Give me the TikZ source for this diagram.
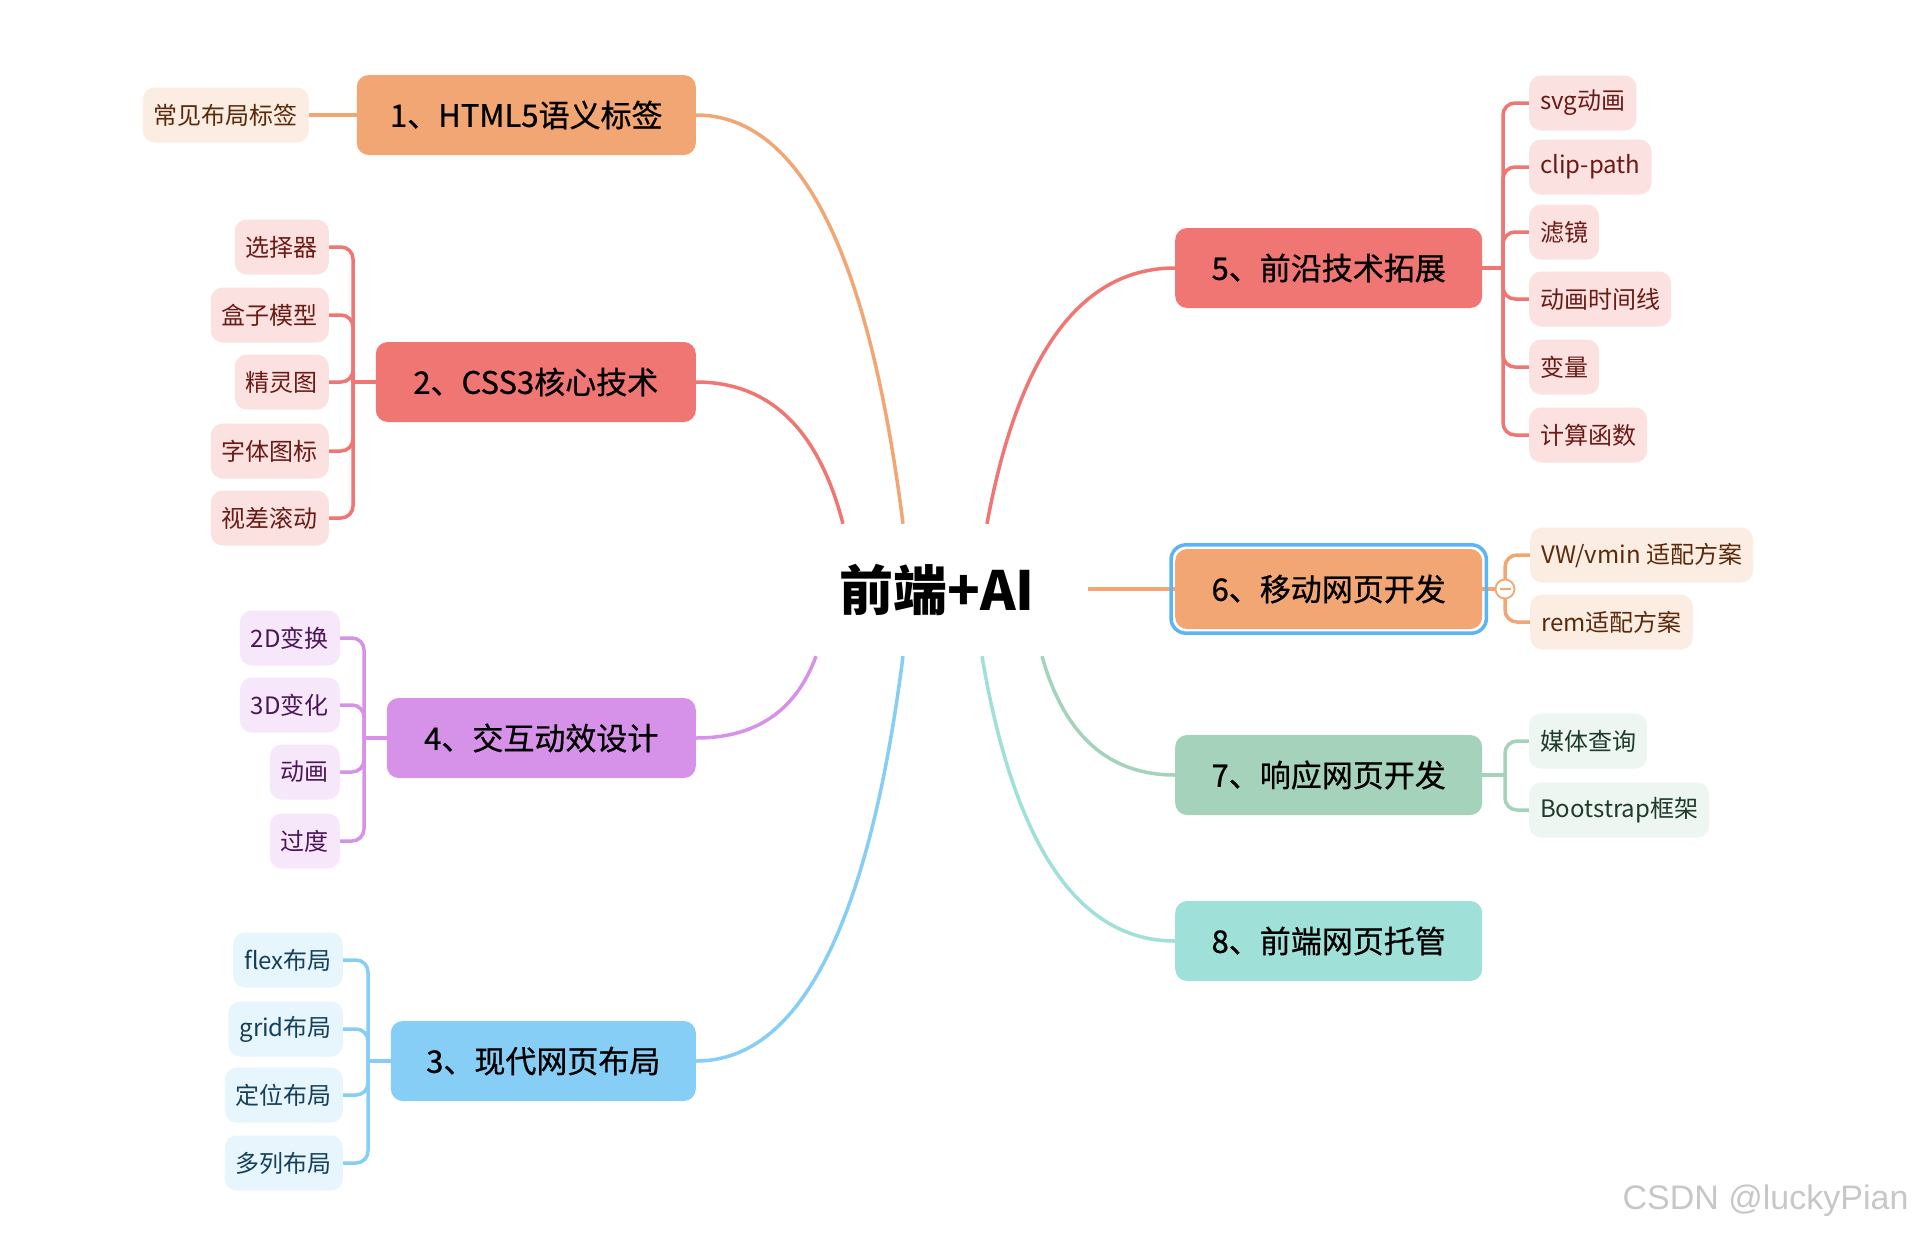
\documentclass[tikz,border=0pt]{standalone}
\usepackage{fontspec}
\setmainfont{Noto Sans CJK SC}
\newfontfamily\medfont{Noto Sans CJK SC}[FakeBold=0.7]
\newfontfamily\wmfont{Liberation Sans}
\usetikzlibrary{calc,fit}
\pgfdeclarelayer{bg}
\pgfsetlayers{bg,main}
\definecolor{orM}{HTML}{F2A673}
\definecolor{orS}{HTML}{FCEDE2}
\definecolor{orT}{HTML}{5B2A0C}
\definecolor{rdM}{HTML}{EF7672}
\definecolor{rdS}{HTML}{FBE2E0}
\definecolor{rdT}{HTML}{6A1B15}
\definecolor{puM}{HTML}{D691E8}
\definecolor{puS}{HTML}{F7E7FA}
\definecolor{puT}{HTML}{4B1658}
\definecolor{blM}{HTML}{86CEF5}
\definecolor{blS}{HTML}{E7F5FD}
\definecolor{blT}{HTML}{15405C}
\definecolor{grM}{HTML}{A5D2BA}
\definecolor{grS}{HTML}{EDF6F1}
\definecolor{grT}{HTML}{1E3B2C}
\definecolor{tlM}{HTML}{9FE0D8}
\definecolor{hlB}{HTML}{5BB5F5}
\tikzset{
  mainbox/.style={rounded corners=12pt, minimum height=80pt, inner xsep=20pt, inner ysep=0pt,
    font=\medfont\fontsize{31}{36}\selectfont, text=black, fill=#1},
  subbox/.style={rounded corners=12pt, minimum height=55pt, inner xsep=11pt, inner ysep=0pt,
    font=\fontsize{24}{28}\selectfont},
  link/.style={line width=3.5pt, draw=#1},
  brk/.style={line width=3.5pt, draw=#1, rounded corners=12pt},
}
\newcommand\curvelink[3]{\draw[link=#1] let \p1=(#2), \p2=(#3) in (\p1) .. controls ({\x1+(\x2-\x1)/6},{\y1+2*(\y2-\y1)/3}) and ({(\x1+\x2)/2},\y2) .. (\p2);}
\begin{document}
\begin{tikzpicture}[x=1pt,y=-1pt]
\useasboundingbox (0,0) rectangle (1916,1232);
\begin{pgfonlayer}{bg}
\fill[white] (0,0) rectangle (1916,1232);
\end{pgfonlayer}

% centre
\node[minimum width=302pt, minimum height=132pt, inner sep=0pt,
  font=\fontsize{54}{60}\selectfont\bfseries] (c) at (937,590) {前端+AI};
\coordinate (s1) at ($(c.north)+(-34,0)$);
\coordinate (s2) at ($(c.north)+(-94,0)$);
\coordinate (s5) at ($(c.north)+(50,0)$);
\coordinate (s4) at ($(c.south)+(-121,0)$);
\coordinate (s3) at ($(c.south)+(-34,0)$);
\coordinate (s8) at ($(c.south)+(45,0)$);
\coordinate (s7) at ($(c.south)+(105,0)$);

% main nodes
\node[mainbox=orM, anchor=east, minimum width=339pt] (m1) at (696,115) {1、HTML5语义标签};
\node[mainbox=rdM, anchor=east, minimum width=320pt] (m2) at (696,382) {2、CSS3核心技术};
\node[mainbox=blM, anchor=east, minimum width=305pt] (m3) at (696,1061) {3、现代网页布局};
\node[mainbox=puM, anchor=east, minimum width=309pt] (m4) at (696,738) {4、交互动效设计};
\node[mainbox=rdM, anchor=west, minimum width=307pt] (m5) at (1175,268) {5、前沿技术拓展};
\node[mainbox=orM, anchor=west, minimum width=307pt] (m6) at (1175,589) {6、移动网页开发};
\node[mainbox=grM, anchor=west, minimum width=307pt] (m7) at (1175,775) {7、响应网页开发};
\node[mainbox=tlM, anchor=west, minimum width=307pt] (m8) at (1175,941) {8、前端网页托管};

% children
\node[subbox, fill=orS, text=orT, anchor=east] (c11) at (309,115) {常见布局标签};

\node[subbox, fill=rdS, text=rdT, anchor=east] (c21) at (329,247) {选择器};
\node[subbox, fill=rdS, text=rdT, anchor=east] (c22) at (329,315) {盒子模型};
\node[subbox, fill=rdS, text=rdT, anchor=east] (c23) at (329,382) {精灵图};
\node[subbox, fill=rdS, text=rdT, anchor=east] (c24) at (329,451) {字体图标};
\node[subbox, fill=rdS, text=rdT, anchor=east] (c25) at (329,518) {视差滚动};

\node[subbox, fill=puS, text=puT, anchor=east] (c41) at (340,638) {2D变换};
\node[subbox, fill=puS, text=puT, anchor=east] (c42) at (340,705) {3D变化};
\node[subbox, fill=puS, text=puT, anchor=east] (c43) at (340,772) {动画};
\node[subbox, fill=puS, text=puT, anchor=east] (c44) at (340,841) {过度};

\node[subbox, fill=blS, text=blT, anchor=east] (c31) at (343,960) {flex布局};
\node[subbox, fill=blS, text=blT, anchor=east] (c32) at (343,1029) {grid布局};
\node[subbox, fill=blS, text=blT, anchor=east] (c33) at (343,1095) {定位布局};
\node[subbox, fill=blS, text=blT, anchor=east] (c34) at (343,1163) {多列布局};

\node[subbox, fill=rdS, text=rdT, anchor=west] (c51) at (1529,103) {svg动画};
\node[subbox, fill=rdS, text=rdT, anchor=west] (c52) at (1529,167) {clip-path};
\node[subbox, fill=rdS, text=rdT, anchor=west] (c53) at (1529,232) {滤镜};
\node[subbox, fill=rdS, text=rdT, anchor=west] (c54) at (1529,299) {动画时间线};
\node[subbox, fill=rdS, text=rdT, anchor=west] (c55) at (1529,367) {变量};
\node[subbox, fill=rdS, text=rdT, anchor=west] (c56) at (1529,435) {计算函数};

\node[subbox, fill=orS, text=orT, anchor=west] (c61) at (1530,555) {VW/vmin 适配方案};
\node[subbox, fill=orS, text=orT, anchor=west] (c62) at (1530,622) {rem适配方案};

\node[subbox, fill=grS, text=grT, anchor=west] (c71) at (1529,741) {媒体查询};
\node[subbox, fill=grS, text=grT, anchor=west] (c72) at (1529,810) {Bootstrap框架};

% bracket points
\coordinate (b2) at (353,382);
\coordinate (b4) at (364,738);
\coordinate (b3) at (368,1061);
\coordinate (b5) at (1503,268);
\coordinate (b6) at (1505,589);
\coordinate (b7) at (1505,775);

\begin{pgfonlayer}{bg}
  % centre links
  \curvelink{orM}{s1}{m1.east}
  \curvelink{rdM}{s2}{m2.east}
  \curvelink{blM}{s3}{m3.east}
  \curvelink{puM}{s4}{m4.east}
  \curvelink{rdM}{s5}{m5.west}
  \draw[link=orM] (c.east |- m6.west) -- (m6.west);
  \curvelink{grM}{s7}{m7.west}
  \curvelink{tlM}{s8}{m8.west}
  % child links
  \draw[link=orM] (m1.west) -- (c11.east);

  \draw[link=rdM] (m2.west) -- (b2);
  \foreach \k in {c21,c22,c23,c24,c25} \draw[brk=rdM] (b2) |- (\k.east);

  \draw[link=puM] (m4.west) -- (b4);
  \foreach \k in {c41,c42,c43,c44} \draw[brk=puM] (b4) |- (\k.east);

  \draw[link=blM] (m3.west) -- (b3);
  \foreach \k in {c31,c32,c33,c34} \draw[brk=blM] (b3) |- (\k.east);

  \draw[link=rdM] (m5.east) -- (b5);
  \foreach \k in {c51,c52,c53,c54,c55,c56} \draw[brk=rdM] (b5) |- (\k.west);

  \draw[link=orM] (m6.east) -- (b6);
  \foreach \k in {c61,c62} \draw[brk=orM] (b6) |- (\k.west);

  \draw[link=grM] (m7.east) -- (b7);
  \foreach \k in {c71,c72} \draw[brk=grM] (b7) |- (\k.west);
\end{pgfonlayer}

% selection outline and collapse toggle
\node[fit=(m6), inner sep=4pt, draw=hlB, line width=3.5pt, rounded corners=15pt] (sel) {};
\node[circle, draw=orM, fill=white, line width=1.8pt, minimum size=19pt, inner sep=0pt] (tog) at (b6) {};
\draw[orM, line width=1.8pt] ($(tog.center)+(-5.5,0)$) -- ($(tog.center)+(5.5,0)$);

% watermark
\node[font=\wmfont\fontsize{34}{40}\selectfont, text=black!22, anchor=east] (wm) at (1912,1201) {CSDN @luckyPian};
\end{tikzpicture}
\end{document}
